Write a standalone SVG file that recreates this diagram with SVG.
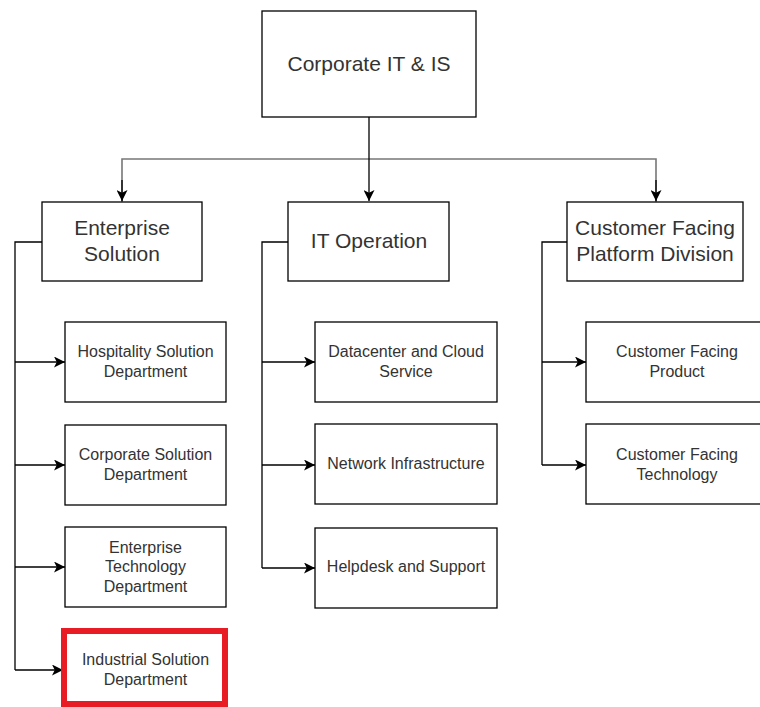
<svg xmlns="http://www.w3.org/2000/svg" width="760" height="707" viewBox="0 0 760 707">
<defs>
<style>
.box{fill:#fff;stroke:#000;stroke-width:1.3}
.hl{fill:#fff;stroke:#e81c24;stroke-width:6}
.big{font-family:"Liberation Sans",Arial,sans-serif;font-size:21px;fill:#333;text-anchor:middle}
.sm{font-family:"Liberation Sans",Arial,sans-serif;font-size:16px;fill:#333;text-anchor:middle}
.ln{fill:none;stroke:#000;stroke-width:1.3}
.gl{fill:none;stroke:#777;stroke-width:1.6}
</style>
<marker id="ah" viewBox="0 0 10 10" refX="10" refY="5" markerWidth="11" markerHeight="11" markerUnits="userSpaceOnUse" orient="auto">
<path d="M0,0 L10,5 L0,10 L2.5,5 Z" fill="#000"/>
</marker>
</defs>
<rect width="760" height="707" fill="#fff"/>
<g id="connectors">
<path class="gl" d="M122,202 L122,159 L656,159 L656,202"/>
<path class="ln" d="M122,180 L122,201" marker-end="url(#ah)"/>
<path class="ln" d="M656,180 L656,201" marker-end="url(#ah)"/>
<path class="ln" d="M369,117 L369,201" marker-end="url(#ah)"/>
<path class="ln" d="M42,242 L15,242 L15,670"/>
<path class="ln" d="M15,362 L65,362" marker-end="url(#ah)"/>
<path class="ln" d="M15,465 L65,465" marker-end="url(#ah)"/>
<path class="ln" d="M15,567 L65,567" marker-end="url(#ah)"/>
<path class="ln" d="M15,670 L63,670" marker-end="url(#ah)"/>
<path class="ln" d="M288,242 L262,242 L262,568"/>
<path class="ln" d="M262,362 L315,362" marker-end="url(#ah)"/>
<path class="ln" d="M262,465 L315,465" marker-end="url(#ah)"/>
<path class="ln" d="M262,568 L315,568" marker-end="url(#ah)"/>
<path class="ln" d="M567,242 L542,242 L542,465"/>
<path class="ln" d="M542,362 L586,362" marker-end="url(#ah)"/>
<path class="ln" d="M542,465 L586,465" marker-end="url(#ah)"/>
</g>
<g id="corporate">
<rect class="box" x="262" y="11" width="214" height="106"/>
<text class="big" x="369" y="71">Corporate IT &amp; IS</text>
</g>
<g id="enterprise">
<rect class="box" x="42" y="202" width="160" height="79"/>
<text class="big" x="122" y="235">Enterprise</text>
<text class="big" x="122" y="261">Solution</text>
</g>
<g id="itop">
<rect class="box" x="288" y="202" width="161" height="79"/>
<text class="big" x="369" y="248">IT Operation</text>
</g>
<g id="cfpd">
<rect class="box" x="567" y="202" width="176" height="79"/>
<text class="big" x="655" y="235">Customer Facing</text>
<text class="big" x="655" y="261">Platform Division</text>
</g>
<g id="hospitality">
<rect class="box" x="65" y="322" width="161" height="80"/>
<text class="sm" x="145.5" y="357">Hospitality Solution</text>
<text class="sm" x="145.5" y="377">Department</text>
</g>
<g id="corpsol">
<rect class="box" x="65" y="425" width="161" height="80"/>
<text class="sm" x="145.5" y="460">Corporate Solution</text>
<text class="sm" x="145.5" y="480">Department</text>
</g>
<g id="enttech">
<rect class="box" x="65" y="527" width="161" height="80"/>
<text class="sm" x="145.5" y="553">Enterprise</text>
<text class="sm" x="145.5" y="572">Technology</text>
<text class="sm" x="145.5" y="592">Department</text>
</g>
<g id="industrial">
<rect class="hl" x="64" y="631" width="161" height="73"/>
<text class="sm" x="145.5" y="665">Industrial Solution</text>
<text class="sm" x="145.5" y="685">Department</text>
</g>
<g id="datacenter">
<rect class="box" x="315" y="322" width="182" height="80"/>
<text class="sm" x="406" y="357">Datacenter and Cloud</text>
<text class="sm" x="406" y="377">Service</text>
</g>
<g id="network">
<rect class="box" x="315" y="424" width="182" height="80"/>
<text class="sm" x="406" y="469">Network Infrastructure</text>
</g>
<g id="helpdesk">
<rect class="box" x="315" y="528" width="182" height="80"/>
<text class="sm" x="406" y="572">Helpdesk and Support</text>
</g>
<g id="cfproduct">
<rect class="box" x="586" y="322" width="182" height="80"/>
<text class="sm" x="677" y="357">Customer Facing</text>
<text class="sm" x="677" y="377">Product</text>
</g>
<g id="cftech">
<rect class="box" x="586" y="424" width="182" height="80"/>
<text class="sm" x="677" y="460">Customer Facing</text>
<text class="sm" x="677" y="480">Technology</text>
</g>
</svg>
